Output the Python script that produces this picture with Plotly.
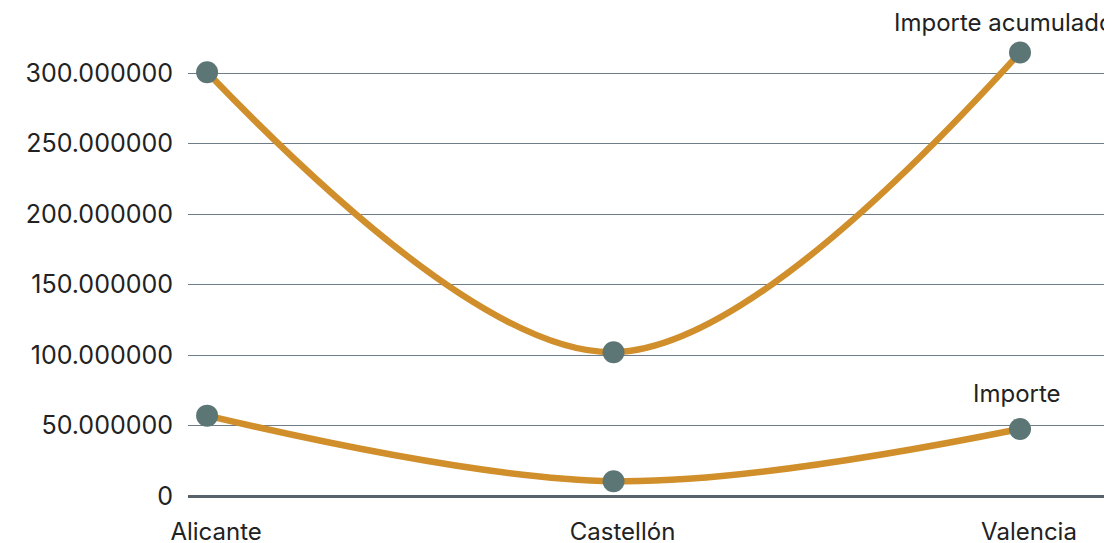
import plotly.graph_objects as go

categories = ["Alicante", "Castellón", "Valencia"]
importe_acumulado = [300_500_000, 102_000_000, 314_500_000]
importe = [57_000_000, 10_500_000, 47_500_000]
tick_vals = [0, 50_000_000, 100_000_000, 150_000_000, 200_000_000, 250_000_000, 300_000_000]
tick_text = ["0", "50.000000", "100.000000", "150.000000", "200.000000", "250.000000", "300.000000"]

line_color = "#D08F2A"
marker_color = "#5B7675"
font_family = "Inter, Liberation Sans, Arial, sans-serif"
text_color = "#222222"

fig = go.Figure()
for name, vals in [("Importe acumulado", importe_acumulado), ("Importe", importe)]:
    fig.add_trace(go.Scatter(
        x=categories, y=vals, mode="lines+markers", name=name,
        line=dict(color=line_color, width=6.5, shape="spline", smoothing=1.0),
        marker=dict(color=marker_color, size=22),
        cliponaxis=False,
    ))

fig.add_annotation(x=categories[2], y=importe_acumulado[2], text="Importe acumulado",
                   showarrow=False, xanchor="left", xshift=-128, yshift=30,
                   font=dict(family=font_family, size=24, color=text_color))
fig.add_annotation(x=categories[2], y=importe[2], text="Importe",
                   showarrow=False, xanchor="center", xshift=-3, yshift=36,
                   font=dict(family=font_family, size=24, color=text_color))

fig.update_layout(
    width=1112, height=543,
    margin=dict(l=180, r=0, t=2, b=55),
    plot_bgcolor="white", paper_bgcolor="white",
    showlegend=False,
    font=dict(family=font_family, size=24, color=text_color),
    xaxis=dict(type="category", range=[-0.047, 2.246], showgrid=False, zeroline=False,
               showline=False, ticks="", ticklabelstandoff=19, ticklabelshift=9,
               tickfont=dict(size=24, color=text_color)),
    yaxis=dict(range=[0, 344_700_000], tickvals=tick_vals, ticktext=tick_text,
               showgrid=True, gridcolor="#6E7D88", gridwidth=1,
               zeroline=True, zerolinecolor="#58626B", zerolinewidth=3,
               showline=False, ticks="", ticklabelstandoff=14,
               tickfont=dict(size=25, color=text_color)),
)

fig.write_html("out.html")
